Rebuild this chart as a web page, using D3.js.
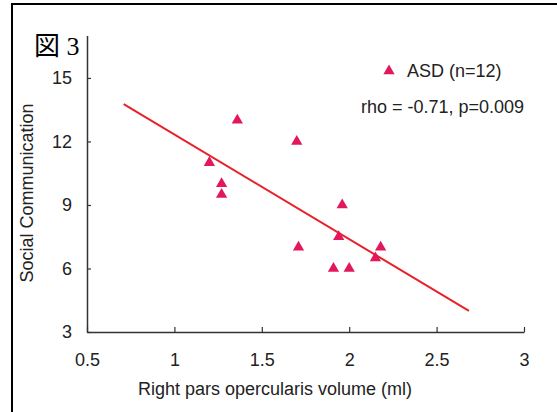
<!DOCTYPE html>
<html>
<head>
<meta charset="utf-8">
<script src="https://cdn.jsdelivr.net/npm/d3@7"></script>
<style>
  body { margin: 0; background: #fff; }
  svg { display: block; }
</style>
</head>
<body>
<div id="chart"></div>
<script>
// Data
const volume = [1.20, 1.36, 1.27, 1.27, 1.70, 1.96, 1.94, 1.71, 1.91, 2.00, 2.15, 2.18];
const socialComm = [11, 13, 10, 9.5, 12, 9, 7.5, 7, 6, 6, 6.5, 7];
const fitX = [0.71, 2.685];
const fitY = [13.76, 4.0];
const xTicks = [0.5, 1, 1.5, 2, 2.5, 3];
const yTicks = [3, 6, 9, 12, 15];

const width = 557;
const height = 412;

const x = d3.scaleLinear([0.5, 3], [87, 524]);
const y = d3.scaleLinear([3, 17], [332, 35.6]);

const svg = d3.select("#chart").append("svg")
  .attr("width", width)
  .attr("height", height)
  .attr("viewBox", [0, 0, width, height])
  .style("font-family", "'Liberation Sans', Arial, sans-serif");

svg.append("rect").attr("width", width).attr("height", height).attr("fill", "#fff");

// Frame of the scanned figure (only left and top edges are visible)
svg.append("rect")
  .attr("x", 12).attr("y", 4)
  .attr("width", 700).attr("height", 600)
  .attr("fill", "none")
  .attr("stroke", "#000")
  .attr("stroke-width", 2);

// x axis
svg.append("g")
  .attr("transform", `translate(0,${y(3)})`)
  .call(d3.axisBottom(x).tickValues(xTicks).tickFormat(d3.format("")).tickSize(-5).tickSizeOuter(0).tickPadding(21))
  .call(g => g.select(".domain").attr("stroke", "#333").attr("stroke-width", 1.5))
  .call(g => g.selectAll(".tick line").attr("stroke", "#333").attr("stroke-width", 1.2))
  .call(g => g.selectAll(".tick text").attr("font-size", 18).attr("fill", "#222").attr("font-family", null));

// y axis
svg.append("g")
  .attr("transform", `translate(${x(0.5)},0)`)
  .call(d3.axisLeft(y).tickValues(yTicks).tickSize(-4).tickSizeOuter(0).tickPadding(15))
  .call(g => g.select(".domain").attr("stroke", "#333").attr("stroke-width", 1.5))
  .call(g => g.selectAll(".tick line").attr("stroke", "#333").attr("stroke-width", 1.2))
  .call(g => g.selectAll(".tick text").attr("font-size", 18).attr("fill", "#222").attr("font-family", null));

// Axis titles
svg.append("text")
  .attr("x", 275).attr("y", 395)
  .attr("text-anchor", "middle")
  .attr("font-size", 18).attr("fill", "#222")
  .text("Right pars opercularis volume (ml)");

svg.append("text")
  .attr("transform", `translate(33,193) rotate(-90)`)
  .attr("text-anchor", "middle")
  .attr("font-size", 18).attr("fill", "#222")
  .text("Social Communication");

// Regression line
svg.append("line")
  .attr("x1", x(fitX[0])).attr("y1", y(fitY[0]))
  .attr("x2", x(fitX[1])).attr("y2", y(fitY[1]))
  .attr("stroke", "#e8202a")
  .attr("stroke-width", 2);

// Points
const tri = d3.symbol(d3.symbolTriangle, 55);
svg.append("g")
  .attr("fill", "#e3185c")
  .selectAll("path")
  .data(volume.map((v, i) => [v, socialComm[i]]))
  .join("path")
  .attr("transform", d => `translate(${x(d[0])},${y(d[1])})`)
  .attr("d", tri);

// Legend
svg.append("path")
  .attr("transform", "translate(389,71)")
  .attr("fill", "#e3185c")
  .attr("d", tri);
svg.append("text")
  .attr("x", 407).attr("y", 77)
  .attr("font-size", 18).attr("fill", "#222")
  .text("ASD (n=12)");
svg.append("text")
  .attr("x", 361).attr("y", 113)
  .attr("font-size", 18).attr("fill", "#222")
  .text("rho = -0.71, p=0.009");

// Figure number
svg.append("text")
  .attr("x", 34).attr("y", 55)
  .attr("font-size", 26).attr("fill", "#000")
  .attr("font-family", "'Liberation Serif', 'Noto Sans CJK JP', serif")
  .text("図 3");
</script>
</body>
</html>
